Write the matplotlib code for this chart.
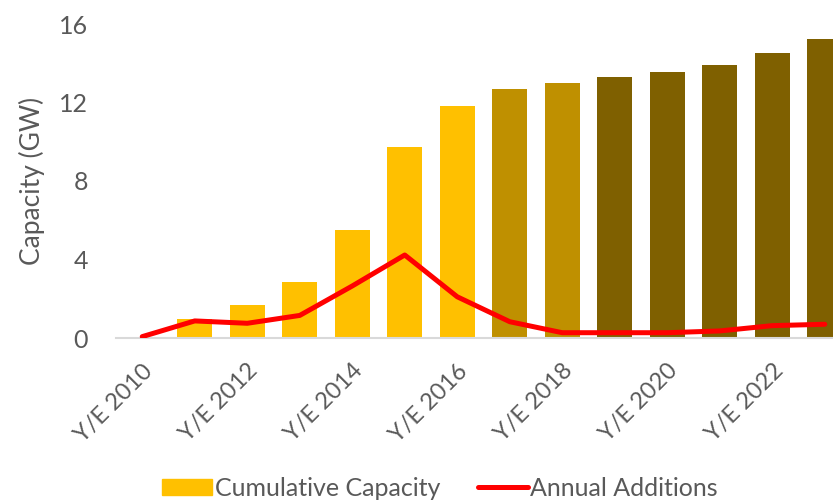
import matplotlib
matplotlib.use("Agg")
import matplotlib.pyplot as plt
from matplotlib.patches import Patch
from matplotlib.lines import Line2D

years = list(range(2010, 2024))
cumulative = [0.05, 0.95, 1.7, 2.87, 5.5, 9.74, 11.8, 12.69, 13.0, 13.3, 13.56, 13.9, 14.54, 15.24]
annual = [0.07, 0.87, 0.75, 1.15, 2.65, 4.23, 2.1, 0.83, 0.27, 0.27, 0.27, 0.36, 0.63, 0.7]
bar_colors = ["#FFC000"] * 7 + ["#BF9000"] * 2 + ["#7F6000"] * 5
tick_labels = [f"Y/E {y}" for y in years]

plt.rcParams['font.family'] = ['Lato', 'DejaVu Sans']
gray = "#595959"

fig = plt.figure(figsize=(8.33, 5), dpi=100)
ax = fig.add_axes([116 / 833, 162 / 500, 735 / 833, 314 / 500])
x = list(range(len(years)))
ax.bar(x, cumulative, width=0.67, color=bar_colors, zorder=2)
ax.plot(x, annual, color="#FF0000", lw=3.6, solid_capstyle='round', solid_joinstyle='round', zorder=3)

ax.set_xlim(-0.5, len(years) - 0.5)
ax.set_ylim(0, 16)
ax.set_yticks([0, 4, 8, 12, 16])
ax.tick_params(axis='y', length=0, labelsize=18, labelcolor=gray, pad=20)
ax.set_xticks(x[::2])
ax.set_xticklabels(tick_labels[::2], rotation=45, ha='right', va='top', rotation_mode='anchor')
ax.tick_params(axis='x', length=0, labelsize=17, labelcolor=gray, pad=16)
for s in ['top', 'right', 'left']:
    ax.spines[s].set_visible(False)
ax.spines['bottom'].set_color('#D9D9D9')
ax.spines['bottom'].set_linewidth(1.5)
ax.set_ylabel("Capacity (GW)", fontsize=19, color=gray, labelpad=10)

handles = [Patch(color="#FFC000", label="Cumulative Capacity"),
           Line2D([0], [0], color="#FF0000", lw=3.6, solid_capstyle='round', label="Annual Additions")]
fig.legend(handles=handles, loc='center', bbox_to_anchor=(440 / 833, 1 - 488 / 500), ncol=2,
           frameon=False, fontsize=18, labelcolor=gray, handlelength=2.0, handleheight=0.6,
           handletextpad=0.1, columnspacing=1.5)

fig.savefig("out.png", dpi=100)
